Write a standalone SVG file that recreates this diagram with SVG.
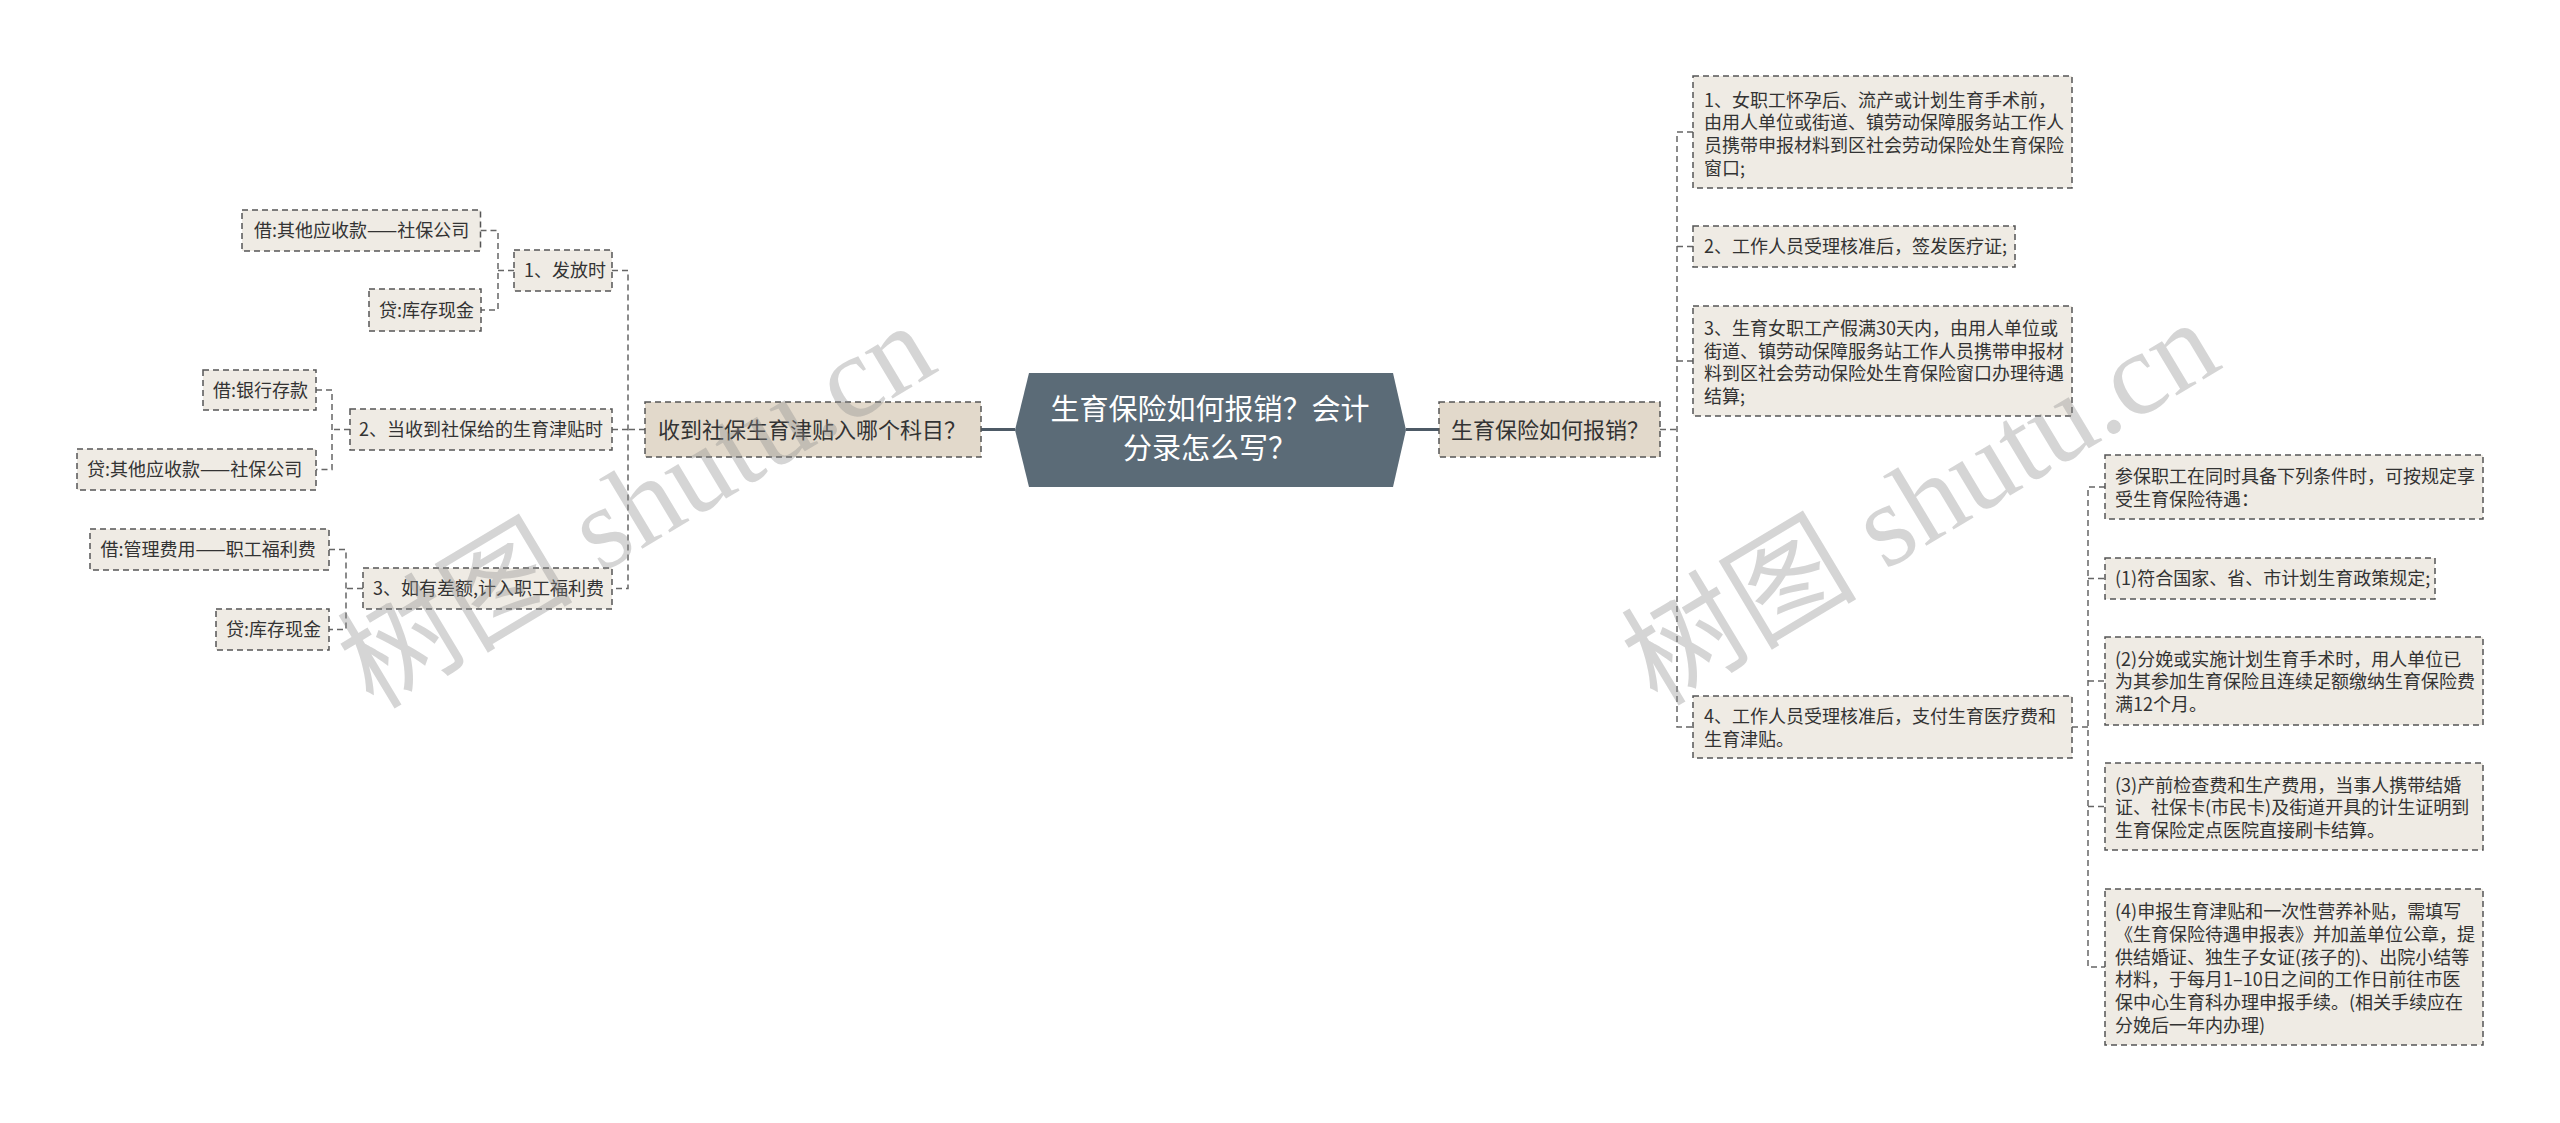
<svg xmlns="http://www.w3.org/2000/svg" width="2560" height="1123" viewBox="0 0 2560 1123">
<style>
text{font-family:"Noto Sans CJK SC","Liberation Sans",sans-serif;fill:#333;}
.n rect{fill:#efebe4;stroke:#555;stroke-width:1.5;stroke-dasharray:6 4;}
.l1 rect{fill:#e2d9cb;stroke:#555;stroke-width:1.5;stroke-dasharray:6 4;}
.n text{font-size:18px;}
.l1 text{font-size:22px;}
.c path{fill:none;stroke:#666;stroke-width:1.5;stroke-dasharray:6 4;}
.c .s{stroke:#4d5a66;stroke-width:3;stroke-dasharray:none;}
.wm{font-family:"Liberation Serif","Noto Sans CJK SC",serif;font-size:118px;fill:#8a8a8a;fill-opacity:0.36;}
</style>
<rect width="2560" height="1123" fill="#fff"/>
<g id="connectors" class="c">
<path class="s" d="M981,429.5 H1015"/>
<path class="s" d="M1406,429.5 H1439"/>
<path d="M645,429.5 H628 M612,270.5 H628 V588.5 H612 M628,429.5 H612"/>
<path d="M514,270.5 H498 M480.5,230.5 H498 V310 H481"/>
<path d="M350,429.5 H332 M316,390 H332 V469.5 H316"/>
<path d="M363,588.5 H346 M329,549.5 H346 V629.5 H329"/>
<path d="M1660,429.5 H1677 M1693,132 H1677 V727 H1693 M1677,246.5 H1693 M1677,361 H1693"/>
<path d="M2072,727 H2088 M2105,487 H2088 V967 H2105 M2088,578.5 H2105 M2088,681 H2105 M2088,806.5 H2105"/>
</g>
<g id="center">
<polygon points="1015,430 1029,373 1393,373 1406,430 1393,487 1029,487" fill="#5b6b77"/>
<text x="1210" y="420" text-anchor="middle" style="font-size:29px;fill:#fff">生育保险如何报销？会计</text>
<text x="1210" y="459" text-anchor="middle" style="font-size:29px;fill:#fff">分录怎么写？</text>
</g>
<g id="nL" class="l1"><rect x="645" y="402" width="336" height="55"/><text x="658" y="437.5">收到社保生育津贴入哪个科目？</text></g>
<g id="nR" class="l1"><rect x="1439" y="402" width="221" height="55"/><text x="1451" y="437.5">生育保险如何报销？</text></g>
<g id="n1" class="n"><rect x="514" y="250" width="98" height="41"/><text x="524" y="277">1、发放时</text></g>
<g id="n1a" class="n"><rect x="242" y="210" width="238.5" height="41"/><text x="254" y="237">借:其他应收款——社保公司</text></g>
<g id="n1b" class="n"><rect x="369" y="289" width="112" height="42"/><text x="379" y="316.5">贷:库存现金</text></g>
<g id="n2" class="n"><rect x="350" y="409" width="262" height="41"/><text x="359" y="436">2、当收到社保给的生育津贴时</text></g>
<g id="n2a" class="n"><rect x="203" y="370" width="113" height="40"/><text x="213" y="396.5">借:银行存款</text></g>
<g id="n2b" class="n"><rect x="77" y="449" width="239" height="41"/><text x="87" y="476">贷:其他应收款——社保公司</text></g>
<g id="n3" class="n"><rect x="363" y="568" width="249" height="41"/><text x="373" y="595">3、如有差额,计入职工福利费</text></g>
<g id="n3a" class="n"><rect x="90" y="529" width="239" height="41"/><text x="100.5" y="556">借:管理费用——职工福利费</text></g>
<g id="n3b" class="n"><rect x="216" y="609" width="113" height="41"/><text x="226" y="636">贷:库存现金</text></g>
<g id="r1" class="n"><rect x="1693" y="76" width="379" height="112"/>
<text x="1704" y="106.5">1、女职工怀孕后、流产或计划生育手术前，</text>
<text x="1704" y="129.2">由用人单位或街道、镇劳动保障服务站工作人</text>
<text x="1704" y="151.9">员携带申报材料到区社会劳动保险处生育保险</text>
<text x="1704" y="174.6">窗口;</text></g>
<g id="r2" class="n"><rect x="1693" y="226" width="322" height="41"/><text x="1704" y="253">2、工作人员受理核准后，签发医疗证;</text></g>
<g id="r3" class="n"><rect x="1693" y="306" width="379" height="110"/>
<text x="1704" y="335">3、生育女职工产假满30天内，由用人单位或</text>
<text x="1704" y="357.7">街道、镇劳动保障服务站工作人员携带申报材</text>
<text x="1704" y="380.4">料到区社会劳动保险处生育保险窗口办理待遇</text>
<text x="1704" y="403.1">结算;</text></g>
<g id="r4" class="n"><rect x="1693" y="696" width="379" height="62"/>
<text x="1704" y="723">4、工作人员受理核准后，支付生育医疗费和</text>
<text x="1704" y="746">生育津贴。</text></g>
<g id="s1" class="n"><rect x="2105" y="455" width="378" height="64"/>
<text x="2115" y="483">参保职工在同时具备下列条件时，可按规定享</text>
<text x="2115" y="506">受生育保险待遇：</text></g>
<g id="s2" class="n"><rect x="2105" y="558" width="330" height="41"/><text x="2115" y="585">(1)符合国家、省、市计划生育政策规定;</text></g>
<g id="s3" class="n"><rect x="2105" y="637" width="378" height="88"/>
<text x="2115" y="665.5">(2)分娩或实施计划生育手术时，用人单位已</text>
<text x="2115" y="688.2">为其参加生育保险且连续足额缴纳生育保险费</text>
<text x="2115" y="710.9">满12个月。</text></g>
<g id="s4" class="n"><rect x="2105" y="763" width="378" height="87"/>
<text x="2115" y="791.5">(3)产前检查费和生产费用，当事人携带结婚</text>
<text x="2115" y="814.2">证、社保卡(市民卡)及街道开具的计生证明到</text>
<text x="2115" y="836.9">生育保险定点医院直接刷卡结算。</text></g>
<g id="s5" class="n"><rect x="2105" y="889" width="378" height="156"/>
<text x="2115" y="918">(4)申报生育津贴和一次性营养补贴，需填写</text>
<text x="2115" y="940.8">《生育保险待遇申报表》并加盖单位公章，提</text>
<text x="2115" y="963.6">供结婚证、独生子女证(孩子的)、出院小结等</text>
<text x="2115" y="986.4">材料，于每月1–10日之间的工作日前往市医</text>
<text x="2115" y="1009.2">保中心生育科办理申报手续。(相关手续应在</text>
<text x="2115" y="1032">分娩后一年内办理)</text></g>
<g id="watermarks">
<text class="wm" x="657" y="540" text-anchor="middle" transform="rotate(-31 657 540)">树图 shutu.cn</text>
<text class="wm" x="1941" y="537" text-anchor="middle" transform="rotate(-31 1941 537)">树图 shutu.cn</text>
</g>
</svg>
